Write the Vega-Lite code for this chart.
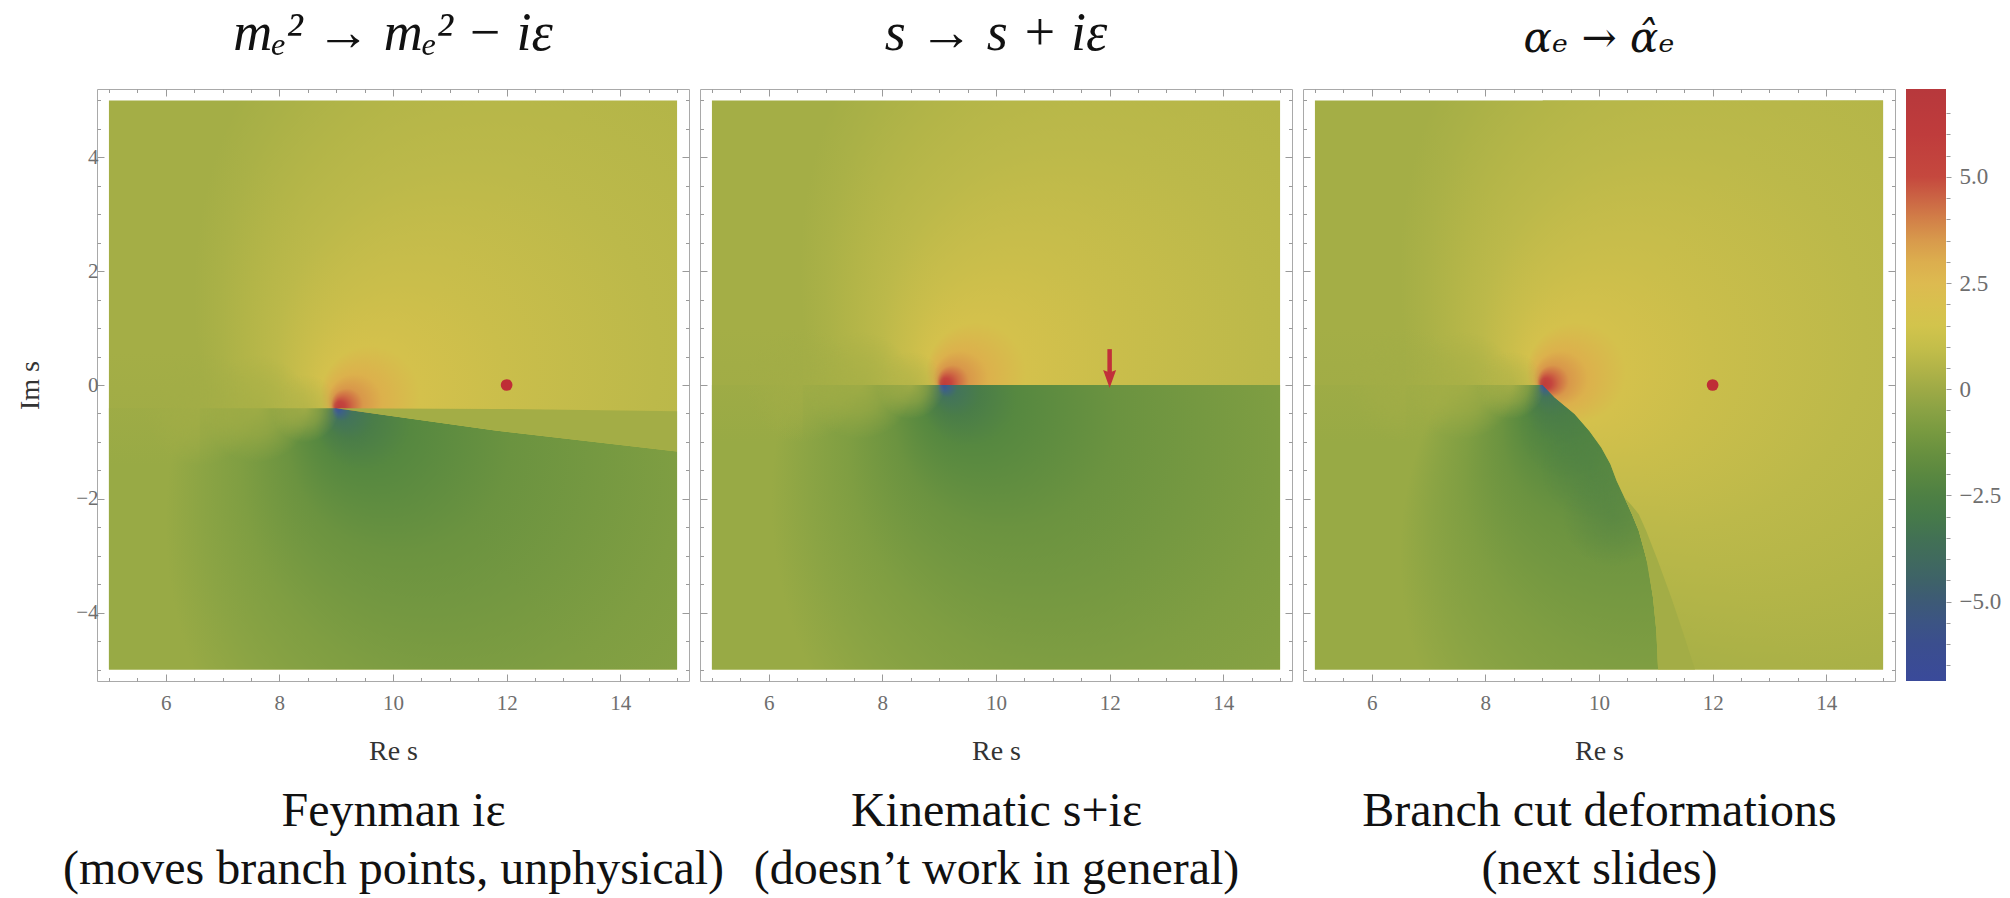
{
"$schema":"https://vega.github.io/schema/vega-lite/v6.json",
"background":"white",
"padding":{"left":16,"top":6,"right":4,"bottom":4},
"bounds":"flush",
"spacing":11,
"config":{
 "view":{"stroke":"#a9a9a9","strokeWidth":1},
 "axis":{"grid":false,"domain":false,"tickColor":"#9a9a9a","tickWidth":1,"labelFont":"Liberation Serif","labelFontSize":21,"labelColor":"#6e6e6e","titleFont":"Liberation Serif","titleFontSize":28,"titleFontWeight":"normal","titleColor":"#333333"},
 "title":{"font":"Liberation Serif","fontSize":54,"fontWeight":"normal","fontStyle":"italic","color":"#111111","offset":28,"baseline":"alphabetic","anchor":"middle"}
},
"hconcat":[
{
"width":592,"height":592,
"title":{"text":"m\u2091\u00b2 \u2192 m\u2091\u00b2 \u2212 i\u03b5"},
"resolve":{"scale":{"x":"independent","y":"independent"}},
"layer":[
 {"data":{"values":[{"x":5,"x2":15,"y":-5,"y2":5}]},
  "mark":{"type":"rect","stroke":null,"color":{"gradient":"radial","x1":0.4,"y1":0.541,"r1":0,"x2":0.95,"y2":0.341,"r2":0.8,"stops":[{"offset":0,"color":"#bd3a3a"},{"offset":0.012,"color":"#c4443e"},{"offset":0.022,"color":"#cf6c44"},{"offset":0.035,"color":"#d9984a"},{"offset":0.06,"color":"#dcb14c"},{"offset":0.11,"color":"#d4c14c"},{"offset":0.22,"color":"#cabe4b"},{"offset":0.42,"color":"#bcb94a"},{"offset":0.62,"color":"#b3b548"},{"offset":0.82,"color":"#aab147"},{"offset":1,"color":"#a4ae46"}]}},
  "encoding":{"x":{"field":"x","type":"quantitative","scale":{"domain":[4.79,15.21],"nice":false,"zero":false},"axis":{"orient":"bottom","values":[6,8,10,12,14],"tickSize":-7,"labelPadding":18,"title":"Re s","titlePadding":24}},"x2":{"field":"x2"},
   "y":{"field":"y","type":"quantitative","scale":{"domain":[-5.2,5.2],"nice":false,"zero":false},"axis":{"orient":"left","values":[-4,-2,0,2,4],"tickSize":-7,"labelPadding":6,"title":"Im s","titlePadding":31}},"y2":{"field":"y2"}}},
 {"data":{"values":[{"x":5,"y":5,"y2":5},{"x":5.0001,"y":-0.41,"y2":-5},{"x":9,"y":-0.41,"y2":-5},{"x":11.8,"y":-0.8,"y2":-5},{"x":15,"y":-1.17,"y2":-5}]},
  "mark":{"type":"area","stroke":null,"opacity":1,"color":{"gradient":"radial","x1":0.4,"y1":0.541,"r1":0,"x2":0.8,"y2":0.741,"r2":0.7,"stops":[{"offset":0,"color":"#3a4f9c"},{"offset":0.01,"color":"#3d6186"},{"offset":0.025,"color":"#43745a"},{"offset":0.06,"color":"#4a7d48"},{"offset":0.12,"color":"#568840"},{"offset":0.28,"color":"#6b9340"},{"offset":0.55,"color":"#7f9e42"},{"offset":0.78,"color":"#8ba444"},{"offset":1,"color":"#98aa45"}]}},
  "encoding":{"x":{"field":"x","type":"quantitative","scale":{"domain":[4.79,15.21],"nice":false,"zero":false},"axis":{"orient":"top","values":[6,8,10,12,14],"tickSize":-7,"labels":false,"title":null}},
   "y":{"field":"y","type":"quantitative","scale":{"domain":[-5.2,5.2],"nice":false,"zero":false},"axis":{"orient":"right","values":[-4,-2,0,2,4],"tickSize":-7,"labels":false,"title":null}},"y2":{"field":"y2"}}},
 {"data":{"values":[{"x":9,"y":-0.41,"y2":-0.41},{"x":11.8,"y":-0.42,"y2":-0.8},{"x":15,"y":-0.46,"y2":-1.17}]},
  "mark":{"type":"area","stroke":null,"color":"#a3ad46","opacity":1},
  "encoding":{"x":{"field":"x","type":"quantitative","scale":{"domain":[4.79,15.21],"nice":false,"zero":false},"axis":{"orient":"bottom","values":[5,5.5,6.5,7,7.5,8.5,9,9.5,10.5,11,11.5,12.5,13,13.5,14.5,15],"tickSize":-3.5,"labels":false,"title":["Feynman i\u03b5","(moves branch points, unphysical)"],"titleFontSize":48,"titleColor":"#111111","titlePadding":106,"titleLineHeight":58}},
   "y":{"field":"y","type":"quantitative","scale":{"domain":[-5.2,5.2],"nice":false,"zero":false},"axis":{"orient":"left","values":[-5,-4.5,-3.5,-3,-2.5,-1.5,-1,-0.5,0.5,1,1.5,2.5,3,3.5,4.5,5],"tickSize":-3.5,"labels":false,"title":null}},"y2":{"field":"y2"}}},
 {"data":{"values":[{"x":5,"x2":6.6,"y":-1.41,"y2":0.59}]},
  "mark":{"type":"rect","stroke":null,"color":{"gradient":"linear","x1":0,"y1":0,"x2":0,"y2":1,"stops":[{"offset":0,"color":"rgba(160,172,70,0)"},{"offset":0.5,"color":"rgba(160,172,70,0.75)"},{"offset":1,"color":"rgba(160,172,70,0)"}]}},
  "encoding":{"x":{"field":"x","type":"quantitative","scale":{"domain":[4.79,15.21],"nice":false,"zero":false},"axis":{"orient":"top","values":[5,5.5,6.5,7,7.5,8.5,9,9.5,10.5,11,11.5,12.5,13,13.5,14.5,15],"tickSize":-3.5,"labels":false,"title":null}},"x2":{"field":"x2"},
   "y":{"field":"y","type":"quantitative","scale":{"domain":[-5.2,5.2],"nice":false,"zero":false},"axis":{"orient":"right","values":[-5,-4.5,-3.5,-3,-2.5,-1.5,-1,-0.5,0.5,1,1.5,2.5,3,3.5,4.5,5],"tickSize":-3.5,"labels":false,"title":null}},"y2":{"field":"y2"}}},
 {"data":{"values":[{"x":6.6,"y":-0.41}]},
  "mark":{"type":"point","shape":"circle","filled":true,"size":12996,"stroke":null,"opacity":1,"color":{"gradient":"radial","x1":0.5,"y1":0.5,"r1":0,"x2":0.5,"y2":0.5,"r2":0.5,"stops":[{"offset":0,"color":"rgba(162,173,70,0.8)"},{"offset":0.5,"color":"rgba(162,173,70,0.5)"},{"offset":1,"color":"rgba(162,173,70,0)"}]}},
  "encoding":{"x":{"field":"x","type":"quantitative","scale":{"domain":[4.79,15.21],"nice":false,"zero":false},"axis":null},
   "y":{"field":"y","type":"quantitative","scale":{"domain":[-5.2,5.2],"nice":false,"zero":false},"axis":null}}},
 {"data":{"values":[{"x":7.6,"y":-0.41}]},
  "mark":{"type":"point","shape":"circle","filled":true,"size":11664,"stroke":null,"opacity":1,"color":{"gradient":"radial","x1":0.5,"y1":0.5,"r1":0,"x2":0.5,"y2":0.5,"r2":0.5,"stops":[{"offset":0,"color":"rgba(166,175,70,0.8)"},{"offset":0.5,"color":"rgba(166,175,70,0.5)"},{"offset":1,"color":"rgba(166,175,70,0)"}]}},
  "encoding":{"x":{"field":"x","type":"quantitative","scale":{"domain":[4.79,15.21],"nice":false,"zero":false},"axis":null},
   "y":{"field":"y","type":"quantitative","scale":{"domain":[-5.2,5.2],"nice":false,"zero":false},"axis":null}}},
 {"data":{"values":[{"x":8.45,"y":-0.41}]},
  "mark":{"type":"point","shape":"circle","filled":true,"size":4624,"stroke":null,"opacity":1,"color":{"gradient":"radial","x1":0.5,"y1":0.5,"r1":0,"x2":0.5,"y2":0.5,"r2":0.5,"stops":[{"offset":0,"color":"rgba(176,179,72,0.75)"},{"offset":0.5,"color":"rgba(176,179,72,0.45)"},{"offset":1,"color":"rgba(176,179,72,0)"}]}},
  "encoding":{"x":{"field":"x","type":"quantitative","scale":{"domain":[4.79,15.21],"nice":false,"zero":false},"axis":null},
   "y":{"field":"y","type":"quantitative","scale":{"domain":[-5.2,5.2],"nice":false,"zero":false},"axis":null}}},
 {"data":{"values":[{"x":12,"y":0}]},
  "mark":{"type":"circle","size":137,"color":"#bf2d36","opacity":1},
  "encoding":{"x":{"field":"x","type":"quantitative","scale":{"domain":[4.79,15.21],"nice":false,"zero":false},"axis":null},
   "y":{"field":"y","type":"quantitative","scale":{"domain":[-5.2,5.2],"nice":false,"zero":false},"axis":null}}}
]
},
{
"width":592,"height":592,
"title":{"text":"s \u2192 s + i\u03b5"},
"resolve":{"scale":{"x":"independent","y":"independent"}},
"layer":[
 {"data":{"values":[{"x":5,"x2":15,"y":-5,"y2":5}]},
  "mark":{"type":"rect","stroke":null,"color":{"gradient":"radial","x1":0.405,"y1":0.5,"r1":0,"x2":0.955,"y2":0.3,"r2":0.8,"stops":[{"offset":0,"color":"#bd3a3a"},{"offset":0.012,"color":"#c4443e"},{"offset":0.022,"color":"#cf6c44"},{"offset":0.035,"color":"#d9984a"},{"offset":0.06,"color":"#dcb14c"},{"offset":0.11,"color":"#d4c14c"},{"offset":0.22,"color":"#cabe4b"},{"offset":0.42,"color":"#bcb94a"},{"offset":0.62,"color":"#b3b548"},{"offset":0.82,"color":"#aab147"},{"offset":1,"color":"#a4ae46"}]}},
  "encoding":{"x":{"field":"x","type":"quantitative","scale":{"domain":[4.79,15.21],"nice":false,"zero":false},"axis":{"orient":"bottom","values":[6,8,10,12,14],"tickSize":-7,"labelPadding":18,"title":"Re s","titlePadding":24}},"x2":{"field":"x2"},
   "y":{"field":"y","type":"quantitative","scale":{"domain":[-5.2,5.2],"nice":false,"zero":false},"axis":{"orient":"left","values":[-4,-2,0,2,4],"tickSize":-7,"labels":false,"title":null}},"y2":{"field":"y2"}}},
 {"data":{"values":[{"x":5,"y":5,"y2":5},{"x":5.0001,"y":0,"y2":-5},{"x":15,"y":0,"y2":-5}]},
  "mark":{"type":"area","stroke":null,"opacity":1,"color":{"gradient":"radial","x1":0.405,"y1":0.5,"r1":0,"x2":0.805,"y2":0.7,"r2":0.7,"stops":[{"offset":0,"color":"#3a4f9c"},{"offset":0.01,"color":"#3d6186"},{"offset":0.025,"color":"#43745a"},{"offset":0.06,"color":"#4a7d48"},{"offset":0.12,"color":"#568840"},{"offset":0.28,"color":"#6b9340"},{"offset":0.55,"color":"#7f9e42"},{"offset":0.78,"color":"#8ba444"},{"offset":1,"color":"#98aa45"}]}},
  "encoding":{"x":{"field":"x","type":"quantitative","scale":{"domain":[4.79,15.21],"nice":false,"zero":false},"axis":{"orient":"top","values":[6,8,10,12,14],"tickSize":-7,"labels":false,"title":null}},
   "y":{"field":"y","type":"quantitative","scale":{"domain":[-5.2,5.2],"nice":false,"zero":false},"axis":{"orient":"right","values":[-4,-2,0,2,4],"tickSize":-7,"labels":false,"title":null}},"y2":{"field":"y2"}}},
 {"data":{"values":[{"x":5,"x2":6.6,"y":-1,"y2":1}]},
  "mark":{"type":"rect","stroke":null,"color":{"gradient":"linear","x1":0,"y1":0,"x2":0,"y2":1,"stops":[{"offset":0,"color":"rgba(160,172,70,0)"},{"offset":0.5,"color":"rgba(160,172,70,0.75)"},{"offset":1,"color":"rgba(160,172,70,0)"}]}},
  "encoding":{"x":{"field":"x","type":"quantitative","scale":{"domain":[4.79,15.21],"nice":false,"zero":false},"axis":{"orient":"bottom","values":[5,5.5,6.5,7,7.5,8.5,9,9.5,10.5,11,11.5,12.5,13,13.5,14.5,15],"tickSize":-3.5,"labels":false,"title":["Kinematic s+i\u03b5","(doesn\u2019t work in general)"],"titleFontSize":48,"titleColor":"#111111","titlePadding":106,"titleLineHeight":58}},"x2":{"field":"x2"},
   "y":{"field":"y","type":"quantitative","scale":{"domain":[-5.2,5.2],"nice":false,"zero":false},"axis":{"orient":"left","values":[-5,-4.5,-3.5,-3,-2.5,-1.5,-1,-0.5,0.5,1,1.5,2.5,3,3.5,4.5,5],"tickSize":-3.5,"labels":false,"title":null}},"y2":{"field":"y2"}}},
 {"data":{"values":[{"x":6.6,"y":0}]},
  "mark":{"type":"point","shape":"circle","filled":true,"size":12996,"stroke":null,"opacity":1,"color":{"gradient":"radial","x1":0.5,"y1":0.5,"r1":0,"x2":0.5,"y2":0.5,"r2":0.5,"stops":[{"offset":0,"color":"rgba(162,173,70,0.8)"},{"offset":0.5,"color":"rgba(162,173,70,0.5)"},{"offset":1,"color":"rgba(162,173,70,0)"}]}},
  "encoding":{"x":{"field":"x","type":"quantitative","scale":{"domain":[4.79,15.21],"nice":false,"zero":false},"axis":{"orient":"top","values":[5,5.5,6.5,7,7.5,8.5,9,9.5,10.5,11,11.5,12.5,13,13.5,14.5,15],"tickSize":-3.5,"labels":false,"title":null}},
   "y":{"field":"y","type":"quantitative","scale":{"domain":[-5.2,5.2],"nice":false,"zero":false},"axis":{"orient":"right","values":[-5,-4.5,-3.5,-3,-2.5,-1.5,-1,-0.5,0.5,1,1.5,2.5,3,3.5,4.5,5],"tickSize":-3.5,"labels":false,"title":null}}}},
 {"data":{"values":[{"x":7.6,"y":0}]},
  "mark":{"type":"point","shape":"circle","filled":true,"size":11664,"stroke":null,"opacity":1,"color":{"gradient":"radial","x1":0.5,"y1":0.5,"r1":0,"x2":0.5,"y2":0.5,"r2":0.5,"stops":[{"offset":0,"color":"rgba(166,175,70,0.8)"},{"offset":0.5,"color":"rgba(166,175,70,0.5)"},{"offset":1,"color":"rgba(166,175,70,0)"}]}},
  "encoding":{"x":{"field":"x","type":"quantitative","scale":{"domain":[4.79,15.21],"nice":false,"zero":false},"axis":null},
   "y":{"field":"y","type":"quantitative","scale":{"domain":[-5.2,5.2],"nice":false,"zero":false},"axis":null}}},
 {"data":{"values":[{"x":8.5,"y":0}]},
  "mark":{"type":"point","shape":"circle","filled":true,"size":4624,"stroke":null,"opacity":1,"color":{"gradient":"radial","x1":0.5,"y1":0.5,"r1":0,"x2":0.5,"y2":0.5,"r2":0.5,"stops":[{"offset":0,"color":"rgba(176,179,72,0.75)"},{"offset":0.5,"color":"rgba(176,179,72,0.45)"},{"offset":1,"color":"rgba(176,179,72,0)"}]}},
  "encoding":{"x":{"field":"x","type":"quantitative","scale":{"domain":[4.79,15.21],"nice":false,"zero":false},"axis":null},
   "y":{"field":"y","type":"quantitative","scale":{"domain":[-5.2,5.2],"nice":false,"zero":false},"axis":null}}},
 {"data":{"values":[{"x":12,"y":0.63,"y2":0.2}]},
  "mark":{"type":"rule","strokeWidth":4.5,"color":"#c1303a"},
  "encoding":{"x":{"field":"x","type":"quantitative","scale":{"domain":[4.79,15.21],"nice":false,"zero":false},"axis":null},
   "y":{"field":"y","type":"quantitative","scale":{"domain":[-5.2,5.2],"nice":false,"zero":false},"axis":null},"y2":{"field":"y2"}}},
 {"data":{"values":[{"x":12,"y":0.105}]},
  "mark":{"type":"point","shape":"M-0.72,-1L0,-0.72L0.72,-1L0,1Z","filled":true,"size":324,"stroke":null,"color":"#c1303a","opacity":1},
  "encoding":{"x":{"field":"x","type":"quantitative","scale":{"domain":[4.79,15.21],"nice":false,"zero":false},"axis":null},
   "y":{"field":"y","type":"quantitative","scale":{"domain":[-5.2,5.2],"nice":false,"zero":false},"axis":null}}}
]
},
{
"width":592,"height":592,
"title":{"text":"\u03b1\u2091 \u2192 \u03b1\u0302\u2091","font":"DejaVu Serif","fontSize":42},
"resolve":{"scale":{"x":"independent","y":"independent"}},
"layer":[
 {"data":{"values":[{"x":5,"x2":15,"y":-5,"y2":5}]},
  "mark":{"type":"rect","stroke":null,"color":{"gradient":"radial","x1":0.4,"y1":0.5,"r1":0,"x2":0.95,"y2":0.3,"r2":0.8,"stops":[{"offset":0,"color":"#bd3a3a"},{"offset":0.012,"color":"#c4443e"},{"offset":0.022,"color":"#cf6c44"},{"offset":0.035,"color":"#d9984a"},{"offset":0.06,"color":"#dcb14c"},{"offset":0.11,"color":"#d4c14c"},{"offset":0.22,"color":"#cabe4b"},{"offset":0.42,"color":"#bcb94a"},{"offset":0.62,"color":"#b3b548"},{"offset":0.82,"color":"#aab147"},{"offset":1,"color":"#a4ae46"}]}},
  "encoding":{"x":{"field":"x","type":"quantitative","scale":{"domain":[4.79,15.21],"nice":false,"zero":false},"axis":{"orient":"bottom","values":[6,8,10,12,14],"tickSize":-7,"labelPadding":18,"title":"Re s","titlePadding":24}},"x2":{"field":"x2"},
   "y":{"field":"y","type":"quantitative","scale":{"domain":[-5.2,5.2],"nice":false,"zero":false},"axis":{"orient":"left","values":[-4,-2,0,2,4],"tickSize":-7,"labels":false,"title":null}},"y2":{"field":"y2"}}},
 {"data":{"values":[{"x":5,"y":5,"y2":5},{"x":5.0001,"y":0,"y2":-5},{"x":9.01,"y":0,"y2":-5},{"x":9.22,"y":-0.22,"y2":-5},{"x":9.57,"y":-0.51,"y2":-5},{"x":9.83,"y":-0.81,"y2":-5},{"x":10.04,"y":-1.1,"y2":-5},{"x":10.2,"y":-1.39,"y2":-5},{"x":10.31,"y":-1.68,"y2":-5},{"x":10.45,"y":-1.98,"y2":-5},{"x":10.58,"y":-2.27,"y2":-5},{"x":10.7,"y":-2.56,"y2":-5},{"x":10.78,"y":-2.85,"y2":-5},{"x":10.86,"y":-3.15,"y2":-5},{"x":10.95,"y":-3.73,"y2":-5},{"x":11.01,"y":-4.32,"y2":-5},{"x":11.04,"y":-5,"y2":-5},{"x":15,"y":-5,"y2":-5}]},
  "mark":{"type":"area","stroke":null,"opacity":1,"color":{"gradient":"radial","x1":0.4,"y1":0.5,"r1":0,"x2":0.75,"y2":0.8,"r2":0.6,"stops":[{"offset":0,"color":"#3a4f9c"},{"offset":0.01,"color":"#3d6186"},{"offset":0.025,"color":"#43745a"},{"offset":0.06,"color":"#4a7d48"},{"offset":0.12,"color":"#568840"},{"offset":0.28,"color":"#6b9340"},{"offset":0.55,"color":"#7f9e42"},{"offset":0.78,"color":"#8ba444"},{"offset":1,"color":"#98aa45"}]}},
  "encoding":{"x":{"field":"x","type":"quantitative","scale":{"domain":[4.79,15.21],"nice":false,"zero":false},"axis":{"orient":"top","values":[6,8,10,12,14],"tickSize":-7,"labels":false,"title":null}},
   "y":{"field":"y","type":"quantitative","scale":{"domain":[-5.2,5.2],"nice":false,"zero":false},"axis":{"orient":"right","values":[-4,-2,0,2,4],"tickSize":-7,"labels":false,"title":null}},"y2":{"field":"y2"}}},
 {"data":{"values":[{"x":9.45,"y":-0.75},{"x":9.85,"y":-1.45},{"x":10.25,"y":-2.3}]},
  "mark":{"type":"point","shape":"circle","filled":true,"size":10404,"stroke":null,"opacity":1,"color":{"gradient":"radial","x1":0.5,"y1":0.5,"r1":0,"x2":0.5,"y2":0.5,"r2":0.5,"stops":[{"offset":0,"color":"rgba(74,125,70,0.45)"},{"offset":0.5,"color":"rgba(74,125,70,0.25)"},{"offset":1,"color":"rgba(74,125,70,0)"}]}},
  "encoding":{"x":{"field":"x","type":"quantitative","scale":{"domain":[4.79,15.21],"nice":false,"zero":false},"axis":null},
   "y":{"field":"y","type":"quantitative","scale":{"domain":[-5.2,5.2],"nice":false,"zero":false},"axis":null}}},
 {"data":{"values":[{"x":5,"y":5,"y2":5},{"x":9.01,"y":5,"y2":5},{"x":9.0101,"y":5,"y2":0},{"x":9.22,"y":5,"y2":-0.22},{"x":9.57,"y":5,"y2":-0.51},{"x":9.83,"y":5,"y2":-0.81},{"x":10.04,"y":5,"y2":-1.1},{"x":10.2,"y":5,"y2":-1.39},{"x":10.31,"y":5,"y2":-1.68},{"x":10.45,"y":5,"y2":-1.98},{"x":10.58,"y":5,"y2":-2.27},{"x":10.7,"y":5,"y2":-2.56},{"x":10.78,"y":5,"y2":-2.85},{"x":10.86,"y":5,"y2":-3.15},{"x":10.95,"y":5,"y2":-3.73},{"x":11.01,"y":5,"y2":-4.32},{"x":11.04,"y":5,"y2":-5},{"x":15,"y":5,"y2":-5}]},
  "mark":{"type":"area","stroke":null,"opacity":1,"color":{"gradient":"radial","x1":0.4,"y1":0.5,"r1":0,"x2":0.95,"y2":0.3,"r2":0.8,"stops":[{"offset":0,"color":"#bd3a3a"},{"offset":0.012,"color":"#c4443e"},{"offset":0.022,"color":"#cf6c44"},{"offset":0.035,"color":"#d9984a"},{"offset":0.06,"color":"#dcb14c"},{"offset":0.11,"color":"#d4c14c"},{"offset":0.22,"color":"#cabe4b"},{"offset":0.42,"color":"#bcb94a"},{"offset":0.62,"color":"#b3b548"},{"offset":0.82,"color":"#aab147"},{"offset":1,"color":"#a4ae46"}]}},
  "encoding":{"x":{"field":"x","type":"quantitative","scale":{"domain":[4.79,15.21],"nice":false,"zero":false},"axis":null},
   "y":{"field":"y","type":"quantitative","scale":{"domain":[-5.2,5.2],"nice":false,"zero":false},"axis":null},"y2":{"field":"y2"}}},
 {"data":{"values":[{"x":10.45,"y":-1.98,"y2":-1.98},{"x":10.58,"y":-2.12,"y2":-2.27},{"x":10.7,"y":-2.27,"y2":-2.56},{"x":10.83,"y":-2.56,"y2":-3.04},{"x":10.95,"y":-2.87,"y2":-3.73},{"x":11.01,"y":-3.02,"y2":-4.32},{"x":11.04,"y":-3.1,"y2":-5},{"x":11.27,"y":-3.73,"y2":-5},{"x":11.47,"y":-4.32,"y2":-5},{"x":11.69,"y":-5,"y2":-5}]},
  "mark":{"type":"area","stroke":null,"color":"#a3ad46","opacity":1},
  "encoding":{"x":{"field":"x","type":"quantitative","scale":{"domain":[4.79,15.21],"nice":false,"zero":false},"axis":{"orient":"bottom","values":[5,5.5,6.5,7,7.5,8.5,9,9.5,10.5,11,11.5,12.5,13,13.5,14.5,15],"tickSize":-3.5,"labels":false,"title":["Branch cut deformations","(next slides)"],"titleFontSize":48,"titleColor":"#111111","titlePadding":106,"titleLineHeight":58}},
   "y":{"field":"y","type":"quantitative","scale":{"domain":[-5.2,5.2],"nice":false,"zero":false},"axis":{"orient":"left","values":[-5,-4.5,-3.5,-3,-2.5,-1.5,-1,-0.5,0.5,1,1.5,2.5,3,3.5,4.5,5],"tickSize":-3.5,"labels":false,"title":null}},"y2":{"field":"y2"}}},
 {"data":{"values":[{"x":5,"x2":6.6,"y":-1,"y2":1}]},
  "mark":{"type":"rect","stroke":null,"color":{"gradient":"linear","x1":0,"y1":0,"x2":0,"y2":1,"stops":[{"offset":0,"color":"rgba(160,172,70,0)"},{"offset":0.5,"color":"rgba(160,172,70,0.75)"},{"offset":1,"color":"rgba(160,172,70,0)"}]}},
  "encoding":{"x":{"field":"x","type":"quantitative","scale":{"domain":[4.79,15.21],"nice":false,"zero":false},"axis":{"orient":"top","values":[5,5.5,6.5,7,7.5,8.5,9,9.5,10.5,11,11.5,12.5,13,13.5,14.5,15],"tickSize":-3.5,"labels":false,"title":null}},"x2":{"field":"x2"},
   "y":{"field":"y","type":"quantitative","scale":{"domain":[-5.2,5.2],"nice":false,"zero":false},"axis":{"orient":"right","values":[-5,-4.5,-3.5,-3,-2.5,-1.5,-1,-0.5,0.5,1,1.5,2.5,3,3.5,4.5,5],"tickSize":-3.5,"labels":false,"title":null}},"y2":{"field":"y2"}}},
 {"data":{"values":[{"x":6.6,"y":0}]},
  "mark":{"type":"point","shape":"circle","filled":true,"size":12996,"stroke":null,"opacity":1,"color":{"gradient":"radial","x1":0.5,"y1":0.5,"r1":0,"x2":0.5,"y2":0.5,"r2":0.5,"stops":[{"offset":0,"color":"rgba(162,173,70,0.8)"},{"offset":0.5,"color":"rgba(162,173,70,0.5)"},{"offset":1,"color":"rgba(162,173,70,0)"}]}},
  "encoding":{"x":{"field":"x","type":"quantitative","scale":{"domain":[4.79,15.21],"nice":false,"zero":false},"axis":null},
   "y":{"field":"y","type":"quantitative","scale":{"domain":[-5.2,5.2],"nice":false,"zero":false},"axis":null}}},
 {"data":{"values":[{"x":7.6,"y":0}]},
  "mark":{"type":"point","shape":"circle","filled":true,"size":11664,"stroke":null,"opacity":1,"color":{"gradient":"radial","x1":0.5,"y1":0.5,"r1":0,"x2":0.5,"y2":0.5,"r2":0.5,"stops":[{"offset":0,"color":"rgba(166,175,70,0.8)"},{"offset":0.5,"color":"rgba(166,175,70,0.5)"},{"offset":1,"color":"rgba(166,175,70,0)"}]}},
  "encoding":{"x":{"field":"x","type":"quantitative","scale":{"domain":[4.79,15.21],"nice":false,"zero":false},"axis":null},
   "y":{"field":"y","type":"quantitative","scale":{"domain":[-5.2,5.2],"nice":false,"zero":false},"axis":null}}},
 {"data":{"values":[{"x":8.45,"y":0}]},
  "mark":{"type":"point","shape":"circle","filled":true,"size":4624,"stroke":null,"opacity":1,"color":{"gradient":"radial","x1":0.5,"y1":0.5,"r1":0,"x2":0.5,"y2":0.5,"r2":0.5,"stops":[{"offset":0,"color":"rgba(176,179,72,0.75)"},{"offset":0.5,"color":"rgba(176,179,72,0.45)"},{"offset":1,"color":"rgba(176,179,72,0)"}]}},
  "encoding":{"x":{"field":"x","type":"quantitative","scale":{"domain":[4.79,15.21],"nice":false,"zero":false},"axis":null},
   "y":{"field":"y","type":"quantitative","scale":{"domain":[-5.2,5.2],"nice":false,"zero":false},"axis":null}}},
 {"data":{"values":[{"x":12,"y":0}]},
  "mark":{"type":"circle","size":137,"color":"#bf2d36","opacity":1},
  "encoding":{"x":{"field":"x","type":"quantitative","scale":{"domain":[4.79,15.21],"nice":false,"zero":false},"axis":null},
   "y":{"field":"y","type":"quantitative","scale":{"domain":[-5.2,5.2],"nice":false,"zero":false},"axis":null}}}
]
},
{
"width":40,"height":592,
"view":{"stroke":null},
"resolve":{"scale":{"y":"independent"}},
"layer":[
 {"data":{"values":[{"a":0,"b":1,"lo":-6.87,"hi":7.07}]},
  "mark":{"type":"rect","stroke":null,"color":{"gradient":"linear","x1":0,"y1":0,"x2":0,"y2":1,"stops":[{"offset":0,"color":"#b7383c"},{"offset":0.0768,"color":"#bf3c3c"},{"offset":0.1485,"color":"#c5483e"},{"offset":0.1844,"color":"#cb6444"},{"offset":0.2202,"color":"#d28048"},{"offset":0.2561,"color":"#d89a4c"},{"offset":0.292,"color":"#dcae4e"},{"offset":0.3278,"color":"#ddba50"},{"offset":0.3637,"color":"#d8c04e"},{"offset":0.3996,"color":"#d2c44c"},{"offset":0.4354,"color":"#c4be4a"},{"offset":0.4713,"color":"#b2b448"},{"offset":0.5072,"color":"#9eaa46"},{"offset":0.543,"color":"#8aa244"},{"offset":0.5789,"color":"#789a40"},{"offset":0.6148,"color":"#68903f"},{"offset":0.6506,"color":"#5a8840"},{"offset":0.6865,"color":"#4e8044"},{"offset":0.7224,"color":"#467a4a"},{"offset":0.7582,"color":"#427154"},{"offset":0.7941,"color":"#406a5e"},{"offset":0.83,"color":"#3e6268"},{"offset":0.8658,"color":"#3d5a76"},{"offset":0.9017,"color":"#3c5484"},{"offset":0.9376,"color":"#3b4e8e"},{"offset":1,"color":"#3a4a9a"}]}},
  "encoding":{"x":{"field":"a","type":"quantitative","scale":{"domain":[0,1],"nice":false,"zero":false},"axis":null},"x2":{"field":"b"},
   "y":{"field":"lo","type":"quantitative","scale":{"domain":[-6.87,7.07],"nice":false,"zero":false},"axis":{"orient":"right","values":[-5,-2.5,0,2.5,5],"format":".1f","labelExpr":"datum.value == 0 ? '0' : datum.label","tickSize":5,"labelPadding":8,"labelFontSize":23,"title":null}},"y2":{"field":"hi"}}},
 {"data":{"values":[{"a":0,"b":1,"lo":-6.87,"hi":7.07}]},
  "mark":{"type":"rect","opacity":0},
  "encoding":{"x":{"field":"a","type":"quantitative","scale":{"domain":[0,1],"nice":false,"zero":false},"axis":null},"x2":{"field":"b"},
   "y":{"field":"lo","type":"quantitative","scale":{"domain":[-6.87,7.07],"nice":false,"zero":false},"axis":{"orient":"right","values":[-6.5,-6,-5.5,-4.5,-4,-3.5,-3,-2,-1.5,-1,-0.5,0.5,1,1.5,2,3,3.5,4,4.5,5.5,6,6.5],"tickSize":4,"labels":false,"title":null}},"y2":{"field":"hi"}}}
]
}
]
}
